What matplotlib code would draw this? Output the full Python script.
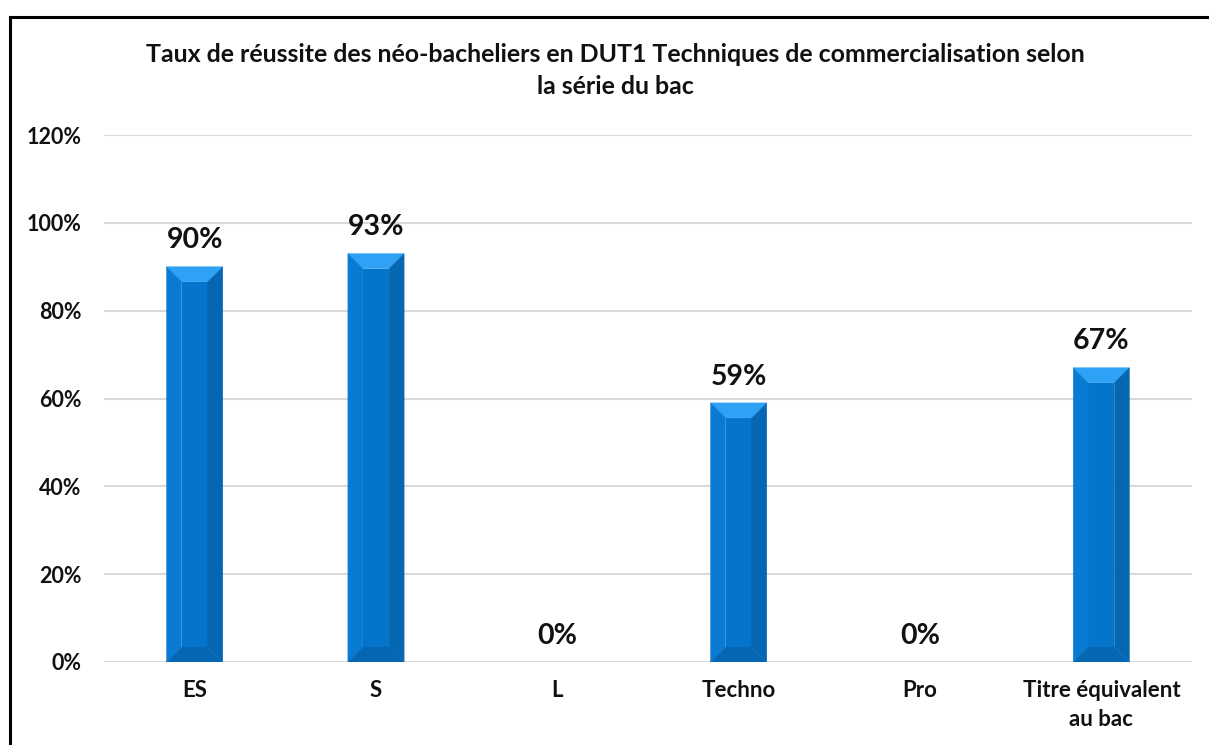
#!/usr/bin/env python3
"""
Bar chart: success rate of new baccalaureate holders in DUT1 TC by bac series.
Bars drawn with a simple bevel effect (Excel style).
"""

import matplotlib.pyplot as plt
from matplotlib.patches import Polygon
from matplotlib.lines import Line2D


CATEGORIES = ["ES", "S", "L", "Techno", "Pro", "Titre équivalent\nau bac"]
VALUES = [90, 93, 0, 59, 0, 67]
Y_TICKS = [0, 20, 40, 60, 80, 100, 120]

TITLE_LINES = [
    "Taux de réussite des néo-bacheliers en DUT1 Techniques de commercialisation selon",
    "la série du bac",
]

FONT = ["Lato", "DejaVu Sans"]

COL_FACE = "#0575CB"
COL_TOP = "#2FA2F5"
COL_LEFT = "#0A7BD2"
COL_RIGHT = "#0566B2"
COL_BOTTOM = "#0567B4"
GRID = "#D9D9D9"
TXT = "#111111"

W, H = 1209, 745
BAR_W = 0.31


def draw_bevel_bar(ax, c, v, bx, by):
    x0, x1 = c - BAR_W / 2, c + BAR_W / 2
    y0, y1 = 0, v
    polys = [
        ([(x0 + bx, y0 + by), (x1 - bx, y0 + by), (x1 - bx, y1 - by), (x0 + bx, y1 - by)], COL_FACE),
        ([(x0, y1), (x1, y1), (x1 - bx, y1 - by), (x0 + bx, y1 - by)], COL_TOP),
        ([(x1, y1), (x1, y0), (x1 - bx, y0 + by), (x1 - bx, y1 - by)], COL_RIGHT),
        ([(x0, y1), (x0 + bx, y1 - by), (x0 + bx, y0 + by), (x0, y0)], COL_LEFT),
        ([(x0, y0), (x1, y0), (x1 - bx, y0 + by), (x0 + bx, y0 + by)], COL_BOTTOM),
    ]
    for pts, col in polys:
        ax.add_patch(Polygon(pts, closed=True, facecolor=col, edgecolor=col,
                             linewidth=0.3, zorder=3))


def main():
    plt.rcParams["font.family"] = FONT
    fig = plt.figure(figsize=(W / 100, H / 100), dpi=100)

    left, right = 104, 1192
    top, bottom = 135, 662
    ax = fig.add_axes([left / W, (H - bottom) / H, (right - left) / W, (bottom - top) / H])

    n = len(CATEGORIES)
    ax.set_xlim(-0.5, n - 0.5)
    ax.set_ylim(0, 120)

    # bevel size in data units (~15 px)
    bx = 15 / ((right - left) / n)
    by = 15 / (bottom - top) * 120

    for i, v in enumerate(VALUES):
        if v > 0:
            draw_bevel_bar(ax, i, v, bx, by)
        ax.annotate(f"{v}%", (i, v), xytext=(0, 19), textcoords="offset points",
                    ha="center", va="center", fontsize=20.5, fontweight="bold",
                    color=TXT)

    for t in Y_TICKS:
        ax.axhline(t, color=GRID, linewidth=1.5, zorder=1)

    ax.set_yticks(Y_TICKS)
    ax.set_yticklabels([f"{t}%" for t in Y_TICKS])
    ax.set_xticks(range(n))
    ax.set_xticklabels(CATEGORIES, linespacing=1.45)
    ax.tick_params(axis="y", length=0, pad=16, labelsize=15.5, labelcolor=TXT)
    ax.tick_params(axis="x", length=0, pad=13, labelsize=16, labelcolor=TXT)
    for lab in ax.get_xticklabels() + ax.get_yticklabels():
        lab.set_fontweight("bold")

    for s in ax.spines.values():
        s.set_visible(False)

    for line, yc in zip(TITLE_LINES, [55, 87]):
        fig.text(615.5 / W, 1 - yc / H, line, ha="center", va="center",
                 fontsize=17.9, fontweight="bold", color=TXT)

    # outer frame (top and left edges)
    fig.add_artist(Line2D([10 / W, 1.0], [1 - 17 / H, 1 - 17 / H], color="black",
                          linewidth=2.2, transform=fig.transFigure))
    fig.add_artist(Line2D([10 / W, 10 / W], [0, 1 - 17 / H], color="black",
                          linewidth=2.2, transform=fig.transFigure))

    fig.savefig("out.png", dpi=100)


if __name__ == "__main__":
    main()
